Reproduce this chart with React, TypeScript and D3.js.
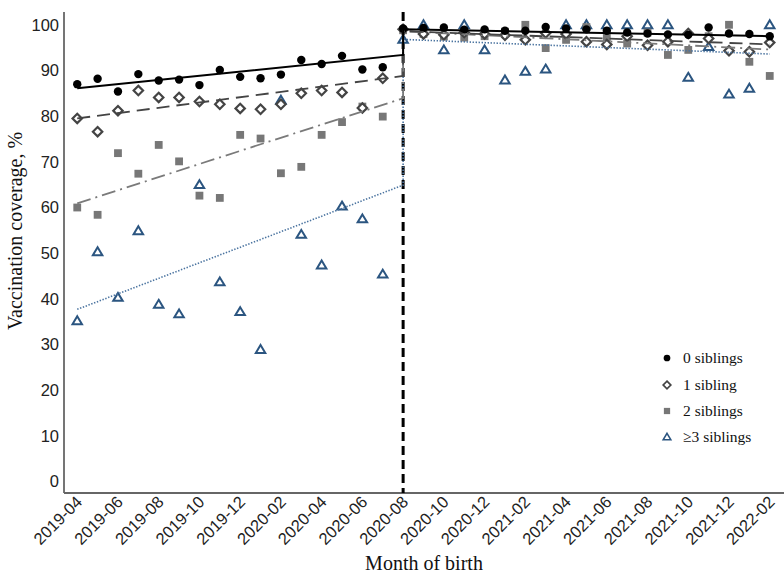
import { useEffect, useRef } from 'react';
import * as d3 from 'd3';

// month index 0 = 2019-04, 16 = 2020-08 (break), 34 = 2022-02
const tickLabels = [
  '2019-04', '2019-06', '2019-08', '2019-10', '2019-12', '2020-02', '2020-04', '2020-06', '2020-08',
  '2020-10', '2020-12', '2021-02', '2021-04', '2021-06', '2021-08', '2021-10', '2021-12', '2022-02',
];
const breakMonth = 16;
const yTicks = [0, 10, 20, 30, 40, 50, 60, 70, 80, 90, 100];

const sib0 = [
  87.0, 88.2, 85.4, 89.2, 87.8, 88.0, 86.8, 90.1, 88.6, 88.3, 89.1, 92.3, 91.4, 93.2, 90.2, 90.7,
  99.2, 99.3, 99.4, 98.9, 99.0, 98.7, 98.7, 99.5, 99.2, 99.0, 98.7, 98.3, 98.1, 97.9, 97.8, 99.4, 98.1, 98.0, 97.5,
];
const sib1 = [
  79.5, 76.6, 81.2, 85.6, 84.1, 84.1, 83.2, 82.6, 81.7, 81.5, 82.6, 85.0, 85.6, 85.2, 81.8, 88.3,
  99.0, 98.0, 97.8, 98.3, 98.0, 97.7, 96.7, 98.2, 98.0, 96.3, 95.7, 97.5, 95.5, 96.3, 98.1, 97.0, 94.3, 94.1, 96.1,
];
const sib2 = [
  60.0, 58.4, 71.9, 67.4, 73.7, 70.1, 62.6, 62.1, 75.9, 75.1, 67.5, 68.9, 75.9, 78.7, 82.1, 79.9,
  98.8, 98.0, 97.4, 97.2, 97.5, 98.5, 100.0, 94.9, 96.7, 99.5, 97.3, 95.9, 98.3, 93.4, 94.5, 97.5, 100.0, 91.9, 88.8,
];
const sib3 = [
  35.2, 50.3, 40.3, 54.9, 38.8, 36.7, 65.0, 43.7, 37.2, 28.9, 83.5, 54.1, 47.4, 60.3, 57.5, 45.4,
  96.8, 100.0, 94.5, 100.0, 94.5, 87.9, 89.8, 90.3, 100.0, 100.0, 100.0, 100.0, 100.0, 100.0, 88.5, 95.2, 84.8, 86.1, 100.0,
];

// fitted segmented trends: [start pre, end pre, start post, end post]
const trendMonths = [0, 16, 16, 34];
const trend0 = [86.1, 93.4, 99.0, 97.5];
const trend1 = [79.5, 88.8, 98.6, 95.7];
const trend2 = [60.9, 83.9, 98.6, 94.6];
const trend3 = [37.7, 64.9, 96.8, 93.6];

const seriesNames = ['0 siblings', '1 sibling', '2 siblings', '\u22653 siblings'];

export default function App() {
  const ref = useRef<SVGSVGElement>(null);

  useEffect(() => {
    if (!ref.current) return;
    const svg = d3.select(ref.current);
    svg.selectAll('*').remove();

    const x = d3.scaleLinear().domain([-0.65, 34.7]).range([64, 784]);
    const y = d3.scaleLinear().domain([-2.5, 102.8]).range([493, 12]);

    const blue = '#2b5580';
    const series = [
      { data: sib0, trend: trend0, shape: 'circle', lineColor: '#000', dash: null, width: 2 },
      { data: sib1, trend: trend1, shape: 'diamond', lineColor: '#444', dash: '13,7', width: 1.8 },
      { data: sib2, trend: trend2, shape: 'square', lineColor: '#7a7a7a', dash: '14,5,2,5', width: 1.8 },
      { data: sib3, trend: trend3, shape: 'triangle', lineColor: '#4b74a0', dash: '1.4,1.6', width: 1.6 },
    ];

    const drawMarker = (g: any, shape: string, cx: number, cy: number, s: number) => {
      if (shape === 'circle') {
        g.append('circle').attr('cx', cx).attr('cy', cy).attr('r', 4.2 * s).attr('fill', '#000');
      } else if (shape === 'diamond') {
        const h = 4.7 * s;
        g.append('path')
          .attr('d', `M${cx},${cy - h}L${cx + h},${cy}L${cx},${cy + h}L${cx - h},${cy}Z`)
          .attr('fill', '#fff').attr('stroke', '#444').attr('stroke-width', 2.2 * s);
      } else if (shape === 'square') {
        const h = 3.9 * s;
        g.append('rect').attr('x', cx - h).attr('y', cy - h).attr('width', 2 * h).attr('height', 2 * h)
          .attr('fill', '#777');
      } else {
        const h = 4.5 * s;
        g.append('path')
          .attr('d', `M${cx},${cy - h}L${cx + h * 1.05},${cy + h * 0.75}L${cx - h * 1.05},${cy + h * 0.75}Z`)
          .attr('fill', '#fff').attr('stroke', blue).attr('stroke-width', 2 * s).attr('stroke-linejoin', 'miter');
      }
    };

    // axes
    svg.append('line').attr('x1', 64).attr('x2', 64).attr('y1', 12).attr('y2', 493)
      .attr('stroke', '#666').attr('stroke-width', 1.8);
    svg.append('line').attr('x1', 64).attr('x2', 784).attr('y1', 493).attr('y2', 493)
      .attr('stroke', '#666').attr('stroke-width', 1.8);

    svg.append('g').selectAll('text').data(yTicks).enter().append('text')
      .attr('x', 59).attr('y', d => y(d)).attr('dy', '0.35em')
      .attr('text-anchor', 'end').attr('font-family', 'Liberation Sans, Arial, sans-serif')
      .attr('font-size', 16.5).attr('fill', '#222').text(d => d);

    svg.append('g').selectAll('text').data(tickLabels).enter().append('text')
      .attr('transform', (_, i) => `translate(${x(i * 2) + 6},${503}) rotate(-45)`)
      .attr('text-anchor', 'end').attr('font-family', 'Liberation Sans, Arial, sans-serif')
      .attr('font-size', 16.5).attr('fill', '#222').text(d => d);

    svg.append('text').attr('x', 424).attr('y', 570).attr('text-anchor', 'middle')
      .attr('font-family', 'Liberation Serif, Times New Roman, serif').attr('font-size', 20)
      .attr('fill', '#111').text('Month of birth');
    svg.append('text').attr('transform', 'translate(22,231) rotate(-90)').attr('text-anchor', 'middle')
      .attr('font-family', 'Liberation Serif, Times New Roman, serif').attr('font-size', 20)
      .attr('fill', '#111').text('Vaccination coverage, %');

    // break line
    svg.append('line').attr('x1', x(breakMonth)).attr('x2', x(breakMonth)).attr('y1', 12).attr('y2', 493)
      .attr('stroke', '#000').attr('stroke-width', 3).attr('stroke-dasharray', '9,5');

    // markers (drawn in reverse so 0 siblings sits on top)
    const marks = svg.append('g');
    [...series].reverse().forEach(s => {
      s.data.forEach((v, i) => drawMarker(marks, s.shape, x(i), y(v), 1));
    });

    // trend lines
    const line = d3.line<number>().x((_, i) => x(trendMonths[i])).y(d => y(d));
    [...series].reverse().forEach(s => {
      const p = svg.append('path').attr('d', line(s.trend)!).attr('fill', 'none')
        .attr('stroke', s.lineColor).attr('stroke-width', s.width);
      if (s.dash) p.attr('stroke-dasharray', s.dash);
    });

    // legend
    const leg = svg.append('g');
    const legY = [358, 385, 411, 437];
    series.forEach((s, i) => {
      drawMarker(leg, s.shape, 667, legY[i], 0.8);
      leg.append('text').attr('x', 683).attr('y', legY[i]).attr('dy', '0.33em')
        .attr('font-family', 'Liberation Serif, Times New Roman, serif').attr('font-size', 15.5)
        .attr('fill', '#111').text(seriesNames[i]);
    });
  }, []);

  return (
    <svg ref={ref} width={784} height={576}
      style={{ position: 'absolute', left: 0, top: 0, background: '#fff' }} />
  );
}
